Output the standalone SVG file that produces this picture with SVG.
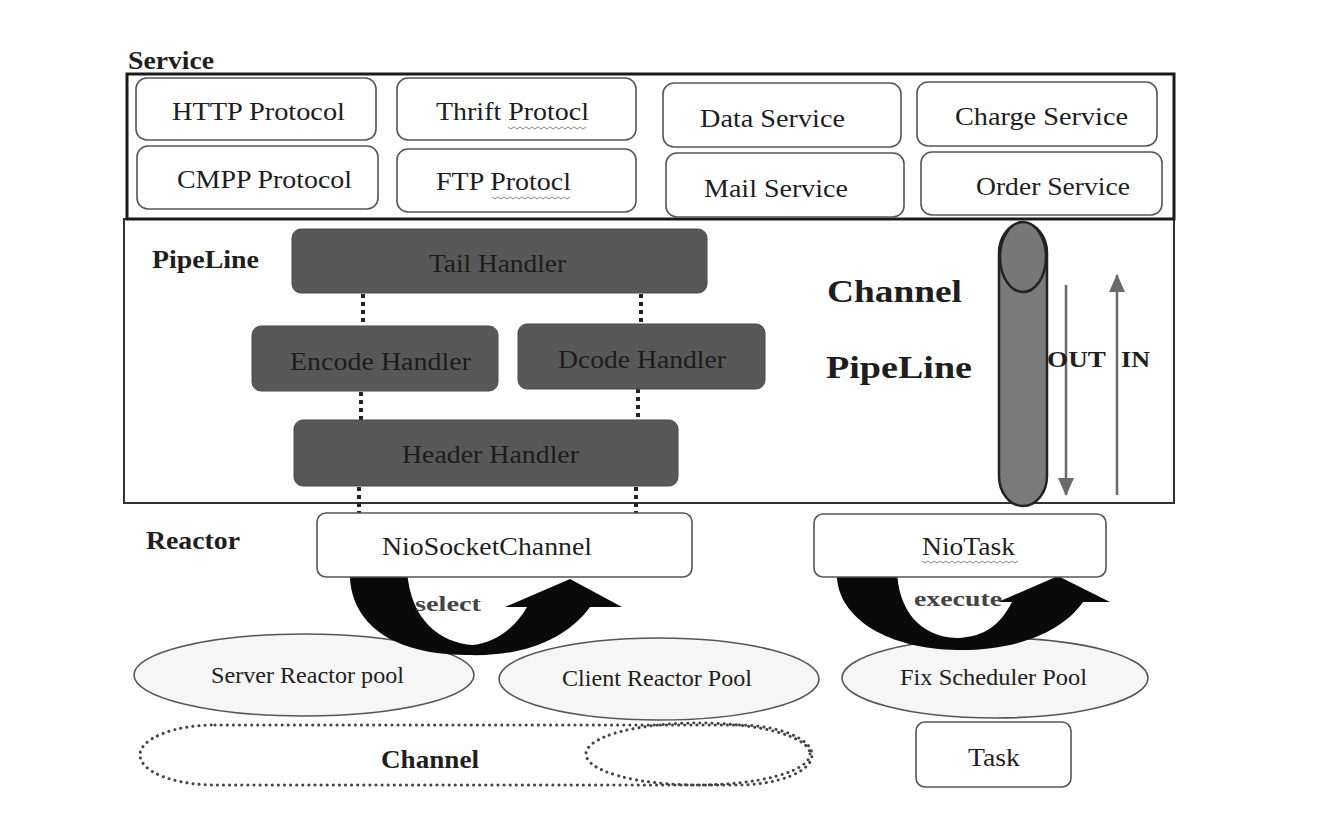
<svg xmlns="http://www.w3.org/2000/svg" width="1328" height="830" viewBox="0 0 1328 830">
<defs>
<style>
.t{font-family:"Liberation Serif","Times New Roman",serif;fill:#1e1e1e;font-size:26px}
.b{font-weight:bold}
.box{fill:#fff;stroke:#555;stroke-width:1.6}
.hd{fill:#585858;stroke:#484848;stroke-width:1}
.ht{font-family:"Liberation Serif","Times New Roman",serif;fill:#1c1c1c;font-size:26px}
.dot{stroke:#222;stroke-width:4;stroke-dasharray:4 4;fill:none}
.ell{fill:#f6f6f6;stroke:#555;stroke-width:1.6}
.dell{fill:none;stroke:#444;stroke-width:3;stroke-dasharray:0.1 6;stroke-linecap:round}
.wav{fill:none;stroke:#888;stroke-width:1}
.flow{stroke:#6a6a6a;stroke-width:2.5;fill:none}
</style>
<marker id="ah" viewBox="0 0 18 16" refX="17" refY="8" markerWidth="18" markerHeight="16" markerUnits="userSpaceOnUse" orient="auto">
<path d="M0,0 L18,8 L0,16 Z" fill="#6a6a6a"/>
</marker>
</defs>
<rect width="1328" height="830" fill="#fff"/>

<g id="pipeline-frame">
<rect x="124" y="219" width="1050" height="284" fill="#fff" stroke="#333" stroke-width="2"/>
<text class="t b" style="font-size:25px" x="152" y="268" textLength="107" lengthAdjust="spacingAndGlyphs">PipeLine</text>
</g>

<g id="service">
<text class="t b" style="font-size:25px" x="128" y="69" textLength="86" lengthAdjust="spacingAndGlyphs">Service</text>
<rect x="127" y="74" width="1047" height="145" fill="none" stroke="#1a1a1a" stroke-width="3"/>
</g>
<g id="http"><rect class="box" x="136" y="78" width="240" height="62" rx="11"/><text class="t" x="172" y="120" textLength="173" lengthAdjust="spacingAndGlyphs">HTTP Protocol</text></g>
<g id="cmpp"><rect class="box" x="137" y="146" width="241" height="63" rx="11"/><text class="t" x="177" y="188" textLength="175" lengthAdjust="spacingAndGlyphs">CMPP Protocol</text></g>
<g id="thrift"><rect class="box" x="397" y="78" width="239" height="62" rx="11"/><text class="t" x="436" y="120" textLength="153" lengthAdjust="spacingAndGlyphs">Thrift Protocl</text><path class="wav" d="M508 127 l3 2 l3 -2 l3 2 l3 -2 l3 2 l3 -2 l3 2 l3 -2 l3 2 l3 -2 l3 2 l3 -2 l3 2 l3 -2 l3 2 l3 -2 l3 2 l3 -2 l3 2 l3 -2 l3 2 l3 -2 l3 2 l3 -2 l3 2 l3 -2"/></g>
<g id="ftp"><rect class="box" x="397" y="149" width="239" height="63" rx="11"/><text class="t" x="436" y="190" textLength="135" lengthAdjust="spacingAndGlyphs">FTP Protocl</text><path class="wav" d="M492 197 l3 2 l3 -2 l3 2 l3 -2 l3 2 l3 -2 l3 2 l3 -2 l3 2 l3 -2 l3 2 l3 -2 l3 2 l3 -2 l3 2 l3 -2 l3 2 l3 -2 l3 2 l3 -2 l3 2 l3 -2 l3 2 l3 -2 l3 2 l3 -2"/></g>
<g id="data"><rect class="box" x="663" y="83" width="238" height="64" rx="11"/><text class="t" x="700" y="127" textLength="145" lengthAdjust="spacingAndGlyphs">Data Service</text></g>
<g id="mail"><rect class="box" x="666" y="153" width="238" height="64" rx="11"/><text class="t" x="704" y="197" textLength="144" lengthAdjust="spacingAndGlyphs">Mail Service</text></g>
<g id="charge"><rect class="box" x="917" y="82" width="240" height="64" rx="11"/><text class="t" x="955" y="125" textLength="173" lengthAdjust="spacingAndGlyphs">Charge Service</text></g>
<g id="order"><rect class="box" x="921" y="152" width="241" height="63" rx="11"/><text class="t" x="976" y="195" textLength="154" lengthAdjust="spacingAndGlyphs">Order Service</text></g>

<g id="connectors">
<line class="dot" x1="363" y1="294" x2="363" y2="326"/>
<line class="dot" x1="361" y1="392" x2="361" y2="420"/>
<line class="dot" x1="359" y1="487" x2="359" y2="513"/>
<line class="dot" x1="641" y1="294" x2="641" y2="324"/>
<line class="dot" x1="638" y1="389" x2="638" y2="420"/>
<line class="dot" x1="636" y1="487" x2="636" y2="513"/>
<line class="flow" x1="1066" y1="285" x2="1066" y2="495" marker-end="url(#ah)"/>
<line class="flow" x1="1117" y1="495" x2="1117" y2="275" marker-end="url(#ah)"/>
</g>

<g id="tail"><rect class="hd" x="292" y="229" width="415" height="64" rx="9"/><text class="ht" x="429" y="272" textLength="137" lengthAdjust="spacingAndGlyphs">Tail Handler</text></g>
<g id="encode"><rect class="hd" x="252" y="326" width="246" height="65" rx="9"/><text class="ht" x="290" y="370" textLength="181" lengthAdjust="spacingAndGlyphs">Encode Handler</text></g>
<g id="dcode"><rect class="hd" x="518" y="324" width="247" height="65" rx="9"/><text class="ht" x="558" y="368" textLength="168" lengthAdjust="spacingAndGlyphs">Dcode Handler</text></g>
<g id="header"><rect class="hd" x="294" y="420" width="384" height="66" rx="9"/><text class="ht" x="402" y="463" textLength="177" lengthAdjust="spacingAndGlyphs">Header Handler</text></g>

<g id="channel-pipeline">
<text class="t b" style="font-size:31px" x="827" y="302" textLength="135" lengthAdjust="spacingAndGlyphs">Channel</text>
<text class="t b" style="font-size:31px" x="826" y="378" textLength="146" lengthAdjust="spacingAndGlyphs">PipeLine</text>
<rect x="999" y="223" width="48" height="283" rx="24" ry="30" fill="#7a7a7a" stroke="#222" stroke-width="2.5"/>
<ellipse cx="1023" cy="257" rx="23" ry="35" fill="#777" stroke="#222" stroke-width="2.5"/>
<text class="t b" style="font-size:23px" x="1047" y="367" textLength="59" lengthAdjust="spacingAndGlyphs">OUT</text>
<text class="t b" style="font-size:23px" x="1121" y="367" textLength="29" lengthAdjust="spacingAndGlyphs">IN</text>
</g>

<g id="reactor-label"><text class="t b" style="font-size:25px" x="146" y="549" textLength="94" lengthAdjust="spacingAndGlyphs">Reactor</text></g>

<g id="server-pool"><ellipse class="ell" cx="304" cy="675" rx="170" ry="41"/><text class="t" style="font-size:23px" x="211" y="683" textLength="193" lengthAdjust="spacingAndGlyphs">Server Reactor pool</text></g>
<g id="client-pool"><ellipse class="ell" cx="659" cy="679" rx="160" ry="41"/><text class="t" style="font-size:23px" x="562" y="686" textLength="190" lengthAdjust="spacingAndGlyphs">Client Reactor Pool</text></g>
<g id="fix-pool"><ellipse class="ell" cx="995" cy="678" rx="153" ry="40"/><text class="t" style="font-size:23px" x="900" y="685" textLength="187" lengthAdjust="spacingAndGlyphs">Fix Scheduler Pool</text></g>

<g id="select-arrow">
<path d="M350 570 L350 578 C352 615 380 654 467 655 C522 657 566 640 590 607 L622 607 L570 579 L505 607 L527 607 C515 628 495 643 473 645 C440 643 410 620 407 570 Z" fill="#0a0a0a"/>
<text class="t b" style="font-size:22px;fill:#444" x="415" y="611" textLength="66" lengthAdjust="spacingAndGlyphs">select</text>
</g>
<g id="execute-arrow">
<path d="M837 570 L837 578 C840 620 890 649 957 650 C1010 651 1060 635 1083 602 L1110 602 L1058 576 L998 602 L1012 602 C1000 625 985 637 957 638 C920 637 898 610 897 570 Z" fill="#0a0a0a"/>
<text class="t b" style="font-size:22px;fill:#444" x="914" y="606" textLength="88" lengthAdjust="spacingAndGlyphs">execute</text>
</g>

<g id="niosocketchannel"><rect class="box" x="317" y="513" width="375" height="64" rx="9"/><text class="t" x="382" y="555" textLength="210" lengthAdjust="spacingAndGlyphs">NioSocketChannel</text></g>
<g id="niotask"><rect class="box" x="814" y="514" width="292" height="63" rx="9"/><text class="t" x="922" y="555" textLength="93" lengthAdjust="spacingAndGlyphs">NioTask</text><path class="wav" d="M922 561 l3 2 l3 -2 l3 2 l3 -2 l3 2 l3 -2 l3 2 l3 -2 l3 2 l3 -2 l3 2 l3 -2 l3 2 l3 -2 l3 2 l3 -2 l3 2 l3 -2 l3 2 l3 -2 l3 2 l3 -2 l3 2 l3 -2 l3 2 l3 -2 l3 2 l3 -2 l3 2 l3 -2 l3 2 l3 -2"/></g>

<g id="channel-bottom">
<rect class="dell" x="140" y="725" width="672" height="60" rx="75" ry="30"/>
<ellipse class="dell" cx="698" cy="754" rx="112" ry="31"/>
<text class="t b" style="font-size:25px" x="381" y="768" textLength="98" lengthAdjust="spacingAndGlyphs">Channel</text>
</g>
<g id="task"><rect class="box" x="916" y="722" width="155" height="65" rx="9"/><text class="t" x="968" y="766" textLength="52" lengthAdjust="spacingAndGlyphs">Task</text></g>
</svg>
